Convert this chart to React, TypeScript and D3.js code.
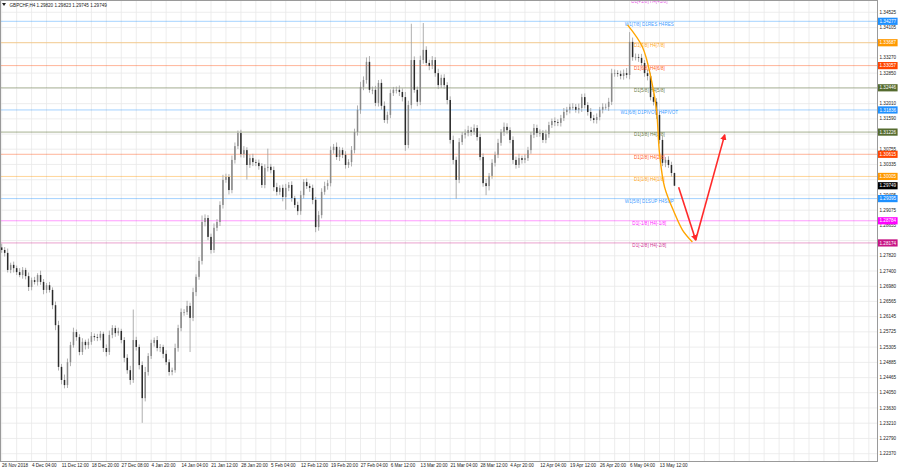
import React from "react";
import * as d3 from "d3";

const W = 900;
const H = 470;

const title = "GBPCHF,H4  1.29820 1.29823 1.29745 1.29749";

const firstOpen = 1.2805;
const closes = [
  1.2798, 1.2790, 1.2743, 1.2757, 1.2748, 1.2737, 1.2729, 1.2743, 1.2726, 1.2696,
  1.2715, 1.2710, 1.2729, 1.2710, 1.2688, 1.2701, 1.2688, 1.2646, 1.2591, 1.2476,
  1.2440, 1.2426, 1.2489, 1.2536, 1.2572, 1.2558, 1.2517, 1.2545, 1.2536, 1.2545,
  1.2561, 1.2558, 1.2556, 1.2567, 1.2528, 1.2517, 1.2564, 1.2583, 1.2569, 1.2575,
  1.2550, 1.2501, 1.2467, 1.2440, 1.2550, 1.2531, 1.2481, 1.2390, 1.2462, 1.2506,
  1.2542, 1.2550, 1.2528, 1.2531, 1.2512, 1.2489, 1.2462, 1.2467, 1.2528, 1.2583,
  1.2627, 1.2627, 1.2644, 1.2611, 1.2682, 1.2724, 1.2768, 1.2875, 1.2886, 1.2834,
  1.2798, 1.2859, 1.2875, 1.2922, 1.2991, 1.2999, 1.2963, 1.3046, 1.3084, 1.3120,
  1.3062, 1.3073, 1.3032, 1.3051, 1.3040, 1.3038, 1.3029, 1.2977, 1.3024, 1.3027,
  1.3018, 1.2971, 1.2958, 1.2969, 1.2944, 1.2969, 1.2977, 1.2941, 1.2922, 1.2905,
  1.2949, 1.2985, 1.2974, 1.2969, 1.2936, 1.2861, 1.2894, 1.2958, 1.2974, 1.2982,
  1.3073, 1.3082, 1.3054, 1.3073, 1.3060, 1.3032, 1.3040, 1.3073, 1.3123, 1.3184,
  1.3247, 1.3266, 1.3316, 1.3239, 1.3239, 1.3203, 1.3258, 1.3195, 1.3156, 1.3170,
  1.3230, 1.3239, 1.3239, 1.3233, 1.3219, 1.3087, 1.3197, 1.3321, 1.3239, 1.3206,
  1.3321, 1.3349, 1.3313, 1.3305, 1.3321, 1.3285, 1.3252, 1.3272, 1.3252, 1.3211,
  1.3101, 1.3046, 1.2991, 1.3095, 1.3115, 1.3120, 1.3128, 1.3123, 1.3134, 1.3109,
  1.3054, 1.2982, 1.2974, 1.3002, 1.3038, 1.3060, 1.3093, 1.3123, 1.3137, 1.3128,
  1.3101, 1.3046, 1.3032, 1.3051, 1.3046, 1.3051, 1.3073, 1.3115, 1.3134, 1.3120,
  1.3120, 1.3101, 1.3117, 1.3142, 1.3153, 1.3150, 1.3148, 1.3161, 1.3178, 1.3184,
  1.3192, 1.3192, 1.3184, 1.3189, 1.3219, 1.3197, 1.3178, 1.3161, 1.3156, 1.3164,
  1.3184, 1.3192, 1.3192, 1.3206, 1.3285, 1.3285, 1.3283, 1.3277, 1.3285, 1.3280,
  1.3371, 1.3329, 1.3329, 1.3327, 1.3313, 1.3285, 1.3277, 1.3219, 1.3206, 1.3170,
  1.3101, 1.3038, 1.3046, 1.3032, 1.3010, 1.2975,
];

// wick lengths in pips beyond the candle body
const upWick = [
  10, 8, 12, 6, 9, 7, 11, 8, 6, 10,
  7, 9, 5, 12, 8, 6, 9, 7, 10, 12,
  8, 15, 10, 9, 12, 7, 8, 10, 6, 9,
  11, 7, 9, 8, 6, 10, 12, 8, 7, 9,
  6, 8, 10, 12, 84, 9, 7, 10, 14, 8,
  9, 7, 11, 8, 6, 10, 8, 7, 12, 9,
  10, 8, 14, 9, 12, 7, 11, 18, 10, 8,
  9, 12, 8, 10, 14, 9, 8, 12, 10, 7,
  9, 11, 8, 10, 12, 7, 9, 8, 10, 50,
  8, 10, 12, 7, 9, 11, 8, 10, 6, 9,
  12, 8, 10, 7, 9, 8, 11, 10, 12, 9,
  10, 8, 12, 9, 7, 10, 8, 11, 9, 12,
  14, 10, 12, 16, 9, 11, 8, 10, 12, 9,
  10, 8, 9, 12, 10, 14, 12, 100, 10, 9,
  12, 74, 10, 9, 11, 8, 12, 9, 10, 8,
  10, 12, 9, 11, 8, 10, 12, 9, 10, 8,
  9, 10, 12, 8, 10, 9, 11, 8, 12, 10,
  8, 10, 9, 12, 7, 10, 9, 8, 11, 9,
  10, 8, 12, 9, 7, 10, 8, 9, 11, 8,
  9, 10, 8, 12, 9, 10, 8, 11, 9, 10,
  8, 10, 9, 11, 12, 10, 8, 9, 10, 14,
  27, 12, 10, 9, 11, 8, 10, 9, 12, 10,
  9, 11, 8, 10, 9, 1,
];
const lowWick = [
  8, 10, 7, 9, 12, 8, 6, 10, 9, 11,
  9, 7, 10, 8, 12, 9, 7, 11, 14, 10,
  12, 9, 8, 11, 7, 10, 9, 8, 12, 10,
  8, 10, 9, 7, 11, 12, 8, 9, 10, 7,
  9, 12, 10, 13, 8, 10, 12, 68, 9, 10,
  8, 10, 9, 11, 12, 8, 10, 9, 7, 10,
  9, 10, 8, 94, 9, 11, 8, 10, 12, 9,
  10, 8, 9, 11, 10, 8, 12, 9, 10, 8,
  9, 10, 40, 8, 11, 9, 10, 8, 9, 10,
  9, 11, 10, 8, 12, 35, 9, 10, 8, 11,
  10, 9, 8, 11, 12, 14, 10, 9, 8, 10,
  9, 10, 8, 11, 9, 10, 8, 12, 9, 10,
  11, 9, 10, 8, 12, 9, 10, 11, 8, 10,
  9, 8, 10, 11, 12, 16, 9, 10, 8, 12,
  9, 10, 8, 12, 9, 10, 11, 8, 10, 12,
  10, 12, 52, 9, 8, 10, 9, 11, 8, 10,
  9, 10, 25, 12, 8, 10, 9, 8, 11, 10,
  9, 11, 10, 8, 10, 9, 8, 10, 9, 11,
  10, 8, 9, 10, 8, 11, 9, 10, 8, 9,
  10, 9, 8, 10, 11, 9, 10, 8, 9, 10,
  9, 10, 8, 11, 9, 10, 8, 9, 10, 9,
  12, 10, 9, 11, 8, 10, 12, 9, 10, 11,
  10, 9, 12, 8, 10, 1,
];

const dateLabels = [
  "26 Nov 2018", "4 Dec 04:00", "11 Dec 12:00", "18 Dec 20:00", "27 Dec 08:00",
  "4 Jan 20:00", "14 Jan 04:00", "21 Jan 12:00", "28 Jan 20:00", "5 Feb 04:00",
  "12 Feb 12:00", "19 Feb 20:00", "27 Feb 04:00", "6 Mar 12:00", "13 Mar 20:00",
  "21 Mar 04:00", "28 Mar 12:00", "4 Apr 20:00", "12 Apr 04:00", "19 Apr 12:00",
  "26 Apr 20:00", "6 May 04:00", "13 May 12:00",
];
const barsPerLabel = 10;

const priceTicks = [
  1.34525, 1.34105, 1.3369, 1.3327, 1.3285, 1.3243, 1.3201, 1.3159, 1.3117, 1.30755,
  1.30335, 1.29915, 1.29495, 1.29075, 1.28655, 1.2824, 1.2782, 1.274, 1.2698, 1.26565,
  1.26145, 1.25725, 1.25305, 1.24885, 1.24465, 1.2405, 1.2363, 1.2321, 1.2279, 1.2237,
];

const levelPrices = [
  1.34887, 1.34277, 1.33687, 1.33057, 1.32446, 1.31836, 1.31226, 1.30615, 1.30005,
  1.29395, 1.28784, 1.28174,
];
const levelNames = [
  "D1[+1/8] H4[+1/8]", "W1[7/8] D1RES H4RES", "D1[7/8] H4[7/8]", "D1[6/8] H4[6/8]",
  "D1[5/8] H4[5/8]", "W1[6/8] D1PIVOT H4PIVOT", "D1[3/8] H4[3/8]", "D1[2/8] H4[2/8]",
  "D1[1/8] H4[1/8]", "W1[5/8] D1SUP H4SUP", "D1[-1/8] H4[-1/8]", "D1[-2/8] H4[-2/8]",
];
const levelColors = [
  "#e040e0", "#1e90ff", "#ff9900", "#ff4500", "#556b2f", "#1e90ff", "#556b2f",
  "#ff4500", "#ff9900", "#1e90ff", "#ff00ff", "#c71585",
];
const levelLabelBar = 216.6;

const currentPrice = 1.29749;

// forecast curve (bar index, price)
const curveBars = [209.3, 214.3, 217.3, 219, 220, 221.7, 225, 227.7, 231];
const curvePrices = [1.3418, 1.3357, 1.3266, 1.3184, 1.3065, 1.2971, 1.29, 1.2853, 1.282];

// arrows (bar index, price)
const arrowBars = [226.4, 232.1, 241.8];
const arrowPrices = [1.2971, 1.28255, 1.3115];

export default function App() {
  const left = 0.5;
  const right = 877.5;
  const top = 0.5;
  const bottom = 461.5;

  const y = d3.scaleLinear().domain([1.2237, 1.34525]).range([453.7, 12.3]);
  const x = d3
    .scaleLinear()
    .domain([0, barsPerLabel * (dateLabels.length - 1)])
    .range([1.7, 659.5]);

  const font = "'Liberation Sans', Arial, sans-serif";
  const fs = 4.6;

  const candles = closes.map((c, i) => {
    const o = i === 0 ? firstOpen : closes[i - 1];
    const hi = Math.max(o, c) + upWick[i] / 10000;
    const lo = Math.min(o, c) - lowWick[i] / 10000;
    return { i, o, c, hi, lo };
  });

  const maxBar = Math.floor(x.invert(right));
  const vGrid = d3.range(0, maxBar + 1, barsPerLabel / 2);

  const curveLine = d3
    .line<number>()
    .x((_, k) => x(curveBars[k]))
    .y((p) => y(p))
    .curve(d3.curveCatmullRom.alpha(0.5));

  const fmt = d3.format(".5f");

  const boxPrices = levelPrices.filter((p) => p <= y.domain()[1]).concat([currentPrice]);
  const visibleTicks = priceTicks.filter(
    (p) => !boxPrices.some((b) => Math.abs(y(b) - y(p)) < 3.6)
  );

  return (
    <svg
      width={W}
      height={H}
      style={{ position: "absolute", left: 0, top: 0, background: "#fff" }}
      fontFamily={font}
    >
      <defs>
        <clipPath id="plot">
          <rect x={left} y={top} width={right - left} height={bottom - top} />
        </clipPath>
        <marker
          id="arrowhead"
          viewBox="0 0 10 10"
          refX="8"
          refY="5"
          markerWidth="4"
          markerHeight="4"
          orient="auto"
        >
          <path d="M0,0 L10,5 L0,10 z" fill="#ff2a2a" />
        </marker>
      </defs>
      <rect x={0} y={0} width={W} height={H} fill="#fff" />

      <g clipPath="url(#plot)">
        {vGrid.map((b) => (
          <line
            key={"vg" + b}
            x1={x(b)}
            x2={x(b)}
            y1={top}
            y2={bottom}
            stroke="#e9e9e9"
            strokeWidth={0.8}
          />
        ))}
        {priceTicks.map((p) => (
          <line
            key={"hg" + p}
            x1={left}
            x2={right}
            y1={y(p)}
            y2={y(p)}
            stroke="#e9e9e9"
            strokeWidth={0.8}
          />
        ))}

        {levelPrices.map((p, k) => (
          <line
            key={"lv" + k}
            x1={left}
            x2={right}
            y1={y(p)}
            y2={y(p)}
            stroke={levelColors[k]}
            strokeOpacity={levelColors[k] === "#556b2f" ? 0.3 : 0.4}
            strokeWidth={levelColors[k] === "#556b2f" ? 1.6 : 1}
          />
        ))}

        {candles.map((d) => (
          <line
            key={"w" + d.i}
            x1={x(d.i)}
            x2={x(d.i)}
            y1={y(d.hi)}
            y2={y(d.lo)}
            stroke="#9a9a9a"
            strokeWidth={0.8}
          />
        ))}
        {candles.map((d) => {
          const y0 = y(Math.max(d.o, d.c));
          const y1 = y(Math.min(d.o, d.c));
          return (
            <rect
              key={"b" + d.i}
              x={x(d.i) - 0.75}
              y={y0}
              width={1.5}
              height={Math.max(0.8, y1 - y0)}
              fill={d.c >= d.o ? "#8a8a8a" : "#2a2a2a"}
            />
          );
        })}

        {levelPrices.map((p, k) => (
          <text
            key={"lt" + k}
            x={x(levelLabelBar)}
            y={y(p) + 4.3}
            fontSize={fs}
            textAnchor="middle"
            fill={levelColors[k]}
            fillOpacity={0.9}
          >
            {levelNames[k]}
          </text>
        ))}

        <path
          d={curveLine(curvePrices) || ""}
          fill="none"
          stroke="#ffa500"
          strokeWidth={1.4}
        />
        <line
          x1={x(arrowBars[0])}
          y1={y(arrowPrices[0])}
          x2={x(arrowBars[1])}
          y2={y(arrowPrices[1])}
          stroke="#ff2a2a"
          strokeWidth={1.6}
          markerEnd="url(#arrowhead)"
        />
        <line
          x1={x(arrowBars[1])}
          y1={y(arrowPrices[1])}
          x2={x(arrowBars[2])}
          y2={y(arrowPrices[2])}
          stroke="#ff2a2a"
          strokeWidth={1.6}
          markerEnd="url(#arrowhead)"
        />
      </g>

      <rect
        x={left}
        y={top}
        width={right - left}
        height={bottom - top}
        fill="none"
        stroke="#9a9a9a"
        strokeWidth={1}
      />

      <path d="M2,3 L6,3 L4,6 z" fill="#222" />
      <text x={9.5} y={6.8} fontSize={fs} fill="#222">
        {title}
      </text>

      {visibleTicks.map((p) => (
        <text key={"pt" + p} x={879.5} y={y(p) + 1.6} fontSize={fs} fill="#222">
          {fmt(p)}
        </text>
      ))}
      {levelPrices
        .map((p, k) => ({ p, k }))
        .filter((d) => d.p <= y.domain()[1])
        .map(({ p, k }) => (
          <g key={"lb" + k}>
            <rect x={878} y={y(p) - 3.6} width={19.6} height={7.2} fill={levelColors[k]} />
            <text x={879.5} y={y(p) + 1.6} fontSize={fs} fill="#fff">
              {fmt(p)}
            </text>
          </g>
        ))}
      <g>
        <rect x={878} y={y(currentPrice) - 3.6} width={19.6} height={7.2} fill="#000" />
        <text x={879.5} y={y(currentPrice) + 1.6} fontSize={fs} fill="#fff">
          {fmt(currentPrice)}
        </text>
      </g>

      {dateLabels.map((t, k) => (
        <text
          key={"dt" + k}
          x={x(k * barsPerLabel) + 0.3}
          y={466.6}
          fontSize={fs}
          fill="#222"
        >
          {t}
        </text>
      ))}
    </svg>
  );
}
